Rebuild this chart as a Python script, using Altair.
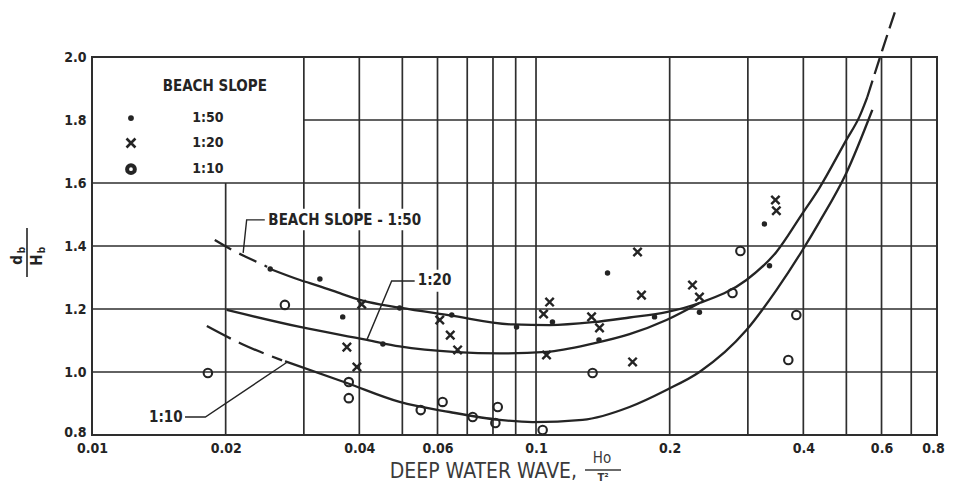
import altair as alt
import pandas as pd

FONT = "DejaVu Sans Condensed, DejaVu Sans, sans-serif"
INK = "#242424"
GRID = "#2e2e2e"

# ---------------- axes ----------------
x_ticks = [0.01, 0.02, 0.04, 0.06, 0.1, 0.2, 0.4, 0.6, 0.8]
y_ticks = [0.8, 1.0, 1.2, 1.4, 1.6, 1.8, 2.0]

# vertical grid lines (x value, top of line)
grid_v_x = [0.02, 0.03, 0.04, 0.05, 0.06, 0.07, 0.08, 0.09, 0.1, 0.2, 0.3, 0.4, 0.5, 0.6, 0.7]
grid_v_top = [1.6, 2.0, 2.0, 2.0, 2.0, 2.0, 2.0, 2.0, 2.0, 2.0, 2.0, 2.0, 2.0, 2.0, 2.0]
# horizontal grid lines (y value, left start)
grid_h_y = [1.0, 1.2, 1.4, 1.6, 1.8]
grid_h_start = [0.01, 0.01, 0.01, 0.01, 0.03]

# ---------------- curves ----------------
c50_dash_x = [0.0189, 0.0207, 0.0225, 0.0248]
c50_dash_y = [1.419, 1.387, 1.362, 1.334]
c50_x = [0.0252, 0.0294, 0.0326, 0.0365, 0.0403, 0.0493, 0.0639, 0.0886, 0.1073, 0.1341,
         0.1624, 0.1967, 0.2334, 0.2978, 0.3478, 0.3959, 0.4346, 0.5000, 0.5348, 0.5574]
c50_y = [1.327, 1.292, 1.272, 1.248, 1.228, 1.204, 1.180, 1.151, 1.149, 1.158,
         1.173, 1.190, 1.219, 1.292, 1.381, 1.498, 1.584, 1.737, 1.810, 1.873]
c50_top_x = [0.5574, 0.6025, 0.6477]
c50_top_y = [1.873, 2.022, 2.156]

c20_x = [0.0201, 0.0294, 0.0416, 0.0493, 0.0663, 0.0828, 0.1056, 0.1341, 0.1624, 0.1967, 0.2334]
c20_y = [1.197, 1.143, 1.102, 1.081, 1.063, 1.059, 1.064, 1.090, 1.120, 1.165, 1.219]

c10_dash_x = [0.01814, 0.02175, 0.02680]
c10_dash_y = [1.146, 1.089, 1.037]
c10_x = [0.0272, 0.0375, 0.0493, 0.0639, 0.0828, 0.0982, 0.1273, 0.1624, 0.1967, 0.2334,
         0.2978, 0.3478, 0.3959, 0.4346, 0.5000, 0.5720]
c10_y = [1.034, 0.965, 0.905, 0.873, 0.848, 0.841, 0.848, 0.889, 0.943, 1.000,
         1.133, 1.260, 1.381, 1.476, 1.632, 1.832]

# ---------------- observations ----------------
s50_x = [0.0252, 0.0326, 0.0367, 0.0452, 0.0493, 0.0646, 0.0904, 0.1089, 0.1386, 0.1449,
         0.1849, 0.2334, 0.3268, 0.3356]
s50_y = [1.327, 1.295, 1.175, 1.089, 1.203, 1.181, 1.143, 1.159, 1.102, 1.314,
         1.175, 1.190, 1.470, 1.337]

s20_x = [0.0375, 0.0395, 0.0405, 0.0607, 0.0641, 0.0666, 0.1073, 0.1040, 0.1056, 0.1334,
         0.1390, 0.1650, 0.1693, 0.1728, 0.2251, 0.2334, 0.3461, 0.3478]
s20_y = [1.079, 1.016, 1.215, 1.165, 1.117, 1.070, 1.222, 1.184, 1.054, 1.175,
         1.140, 1.032, 1.381, 1.244, 1.276, 1.238, 1.546, 1.512]

s10_x = [0.01824, 0.02719, 0.03787, 0.03787, 0.0550, 0.0616, 0.0720, 0.0820, 0.0810, 0.1035,
         0.1341, 0.2770, 0.2886, 0.3857, 0.3700]
s10_y = [0.997, 1.213, 0.968, 0.917, 0.879, 0.905, 0.857, 0.889, 0.838, 0.816,
         0.997, 1.251, 1.384, 1.181, 1.038]

# ---------------- annotations ----------------
lead_id = [0, 0, 0, 1, 1, 1, 2, 2, 2]
lead_x = [0.0245, 0.0223, 0.0219, 0.0533, 0.0473, 0.0416, 0.0162, 0.0180, 0.0275]
lead_y = [1.483, 1.483, 1.378, 1.289, 1.289, 1.102, 0.857, 0.857, 1.031]

lab_left_text = ["BEACH SLOPE - 1:50", "1:20"]
lab_left_x = [0.0247, 0.0536]
lab_left_y = [1.483, 1.291]
lab_right_text = ["1:10"]
lab_right_x = [0.0160]
lab_right_y = [0.857]

# white boxes behind labels (x, x2, y, y2)
box_x = [0.0245, 0.0531]
box_x2 = [0.0580, 0.0640]
box_y = [1.450, 1.255]
box_y2 = [1.518, 1.325]

legend_title = "BEACH SLOPE"
legend_title_x = [0.0189]
legend_title_y = [1.908]
legend_labels = ["1:50", "1:20", "1:10"]
legend_sym_x = 0.01224
legend_lab_x = 0.01824
legend_y = [1.806, 1.727, 1.644]

x_title = "DEEP WATER WAVE,"
x_frac_num = "Ho"
x_frac_den = "T²"
y_num = ["d", "b"]
y_den = ["H", "b"]

# ---------------- chart ----------------
xs = alt.Scale(type="log", domain=[0.01, 0.8], nice=False)
ys = alt.Scale(domain=[0.8, 2.0], nice=False, zero=False)
xaxis = alt.Axis(values=x_ticks, format="~g", title=None, grid=False, ticks=False, domain=False,
                 labelFont=FONT, labelFontSize=14, labelFontWeight="bold", labelColor=INK,
                 labelPadding=6, labelFlush=False, labelOverlap=False,
                 labelOffset={"condition": {"test": "datum.value > 0.7", "value": -4}, "value": 0})
yaxis = alt.Axis(values=y_ticks, format=".1f", title=None, grid=False, ticks=False, domain=False,
                 labelFont=FONT, labelFontSize=14, labelFontWeight="bold", labelColor=INK,
                 labelPadding=6, labelOverlap=False,
                 labelOffset={"condition": {"test": "datum.value < 0.9", "value": -3}, "value": 0})


def X(f):
    return alt.X(f"{f}:Q", scale=xs, axis=xaxis)


def Y(f):
    return alt.Y(f"{f}:Q", scale=ys, axis=yaxis)


vgrid = pd.DataFrame({"x": grid_v_x, "y": [0.8] * len(grid_v_x), "y2": grid_v_top})
hgrid = pd.DataFrame({"y": grid_h_y, "x": grid_h_start, "x2": [0.8] * len(grid_h_y)})

layers = []
layers.append(alt.Chart(vgrid).mark_rule(color=GRID, strokeWidth=1.7).encode(
    x=X("x"), y=Y("y"), y2="y2:Q"))
layers.append(alt.Chart(hgrid).mark_rule(color=GRID, strokeWidth=1.7).encode(
    x=X("x"), x2="x2:Q", y=Y("y")))

boxes = pd.DataFrame({"x": box_x, "x2": box_x2, "y": box_y, "y2": box_y2})
layers.append(alt.Chart(boxes).mark_rect(color="white").encode(
    x=X("x"), x2="x2:Q", y=Y("y"), y2="y2:Q"))


def curve(xv, yv, dash=None):
    df = pd.DataFrame({"x": xv, "y": yv, "i": list(range(len(xv)))})
    kw = dict(color=INK, strokeWidth=2.3, interpolate="monotone")
    if dash:
        kw["strokeDash"] = dash
    return alt.Chart(df).mark_line(**kw).encode(x=X("x"), y=Y("y"), order="i:Q")


layers.append(curve(c50_dash_x, c50_dash_y, [19, 9]))
layers.append(curve(c50_x, c50_y))
layers.append(curve(c50_top_x, c50_top_y, [17, 7]))
layers.append(curve(c20_x, c20_y))
layers.append(curve(c10_dash_x, c10_dash_y, [27, 9]))
layers.append(curve(c10_x, c10_y))

leads = pd.DataFrame({"x": lead_x, "y": lead_y, "g": lead_id, "i": list(range(len(lead_x)))})
layers.append(alt.Chart(leads).mark_line(color=INK, strokeWidth=1.4).encode(
    x=X("x"), y=Y("y"), detail="g:N", order="i:Q"))

XSHAPE = "M-1,-1L1,1M-1,1L1,-1"
layers.append(alt.Chart(pd.DataFrame({"x": s50_x, "y": s50_y})).mark_circle(
    color=INK, size=30, opacity=1).encode(x=X("x"), y=Y("y")))
layers.append(alt.Chart(pd.DataFrame({"x": s20_x, "y": s20_y})).mark_point(
    shape=XSHAPE, filled=False, color=INK, size=70, strokeWidth=2.4, opacity=1).encode(x=X("x"), y=Y("y")))
layers.append(alt.Chart(pd.DataFrame({"x": s10_x, "y": s10_y})).mark_point(
    shape="circle", filled=False, color=INK, size=72, strokeWidth=2.1, opacity=1).encode(x=X("x"), y=Y("y")))

# curve labels
layers.append(alt.Chart(pd.DataFrame({"x": lab_left_x, "y": lab_left_y, "t": lab_left_text})).mark_text(
    align="left", baseline="middle", font=FONT, fontSize=15, fontWeight="bold", color=INK, dx=2).encode(
    x=X("x"), y=Y("y"), text="t:N"))
layers.append(alt.Chart(pd.DataFrame({"x": lab_right_x, "y": lab_right_y, "t": lab_right_text})).mark_text(
    align="right", baseline="middle", font=FONT, fontSize=15, fontWeight="bold", color=INK).encode(
    x=X("x"), y=Y("y"), text="t:N"))

# legend box content
layers.append(alt.Chart(pd.DataFrame({"x": legend_title_x, "y": legend_title_y, "t": [legend_title]})).mark_text(
    align="center", baseline="middle", font=FONT, fontSize=15, fontWeight="bold", color=INK).encode(
    x=X("x"), y=Y("y"), text="t:N"))
layers.append(alt.Chart(pd.DataFrame({"x": [legend_lab_x] * 3, "y": legend_y, "t": legend_labels})).mark_text(
    align="center", baseline="middle", font=FONT, fontSize=14, fontWeight="bold", color=INK).encode(
    x=X("x"), y=Y("y"), text="t:N"))
layers.append(alt.Chart(pd.DataFrame({"x": [legend_sym_x], "y": [legend_y[0]]})).mark_circle(
    color=INK, size=34, opacity=1).encode(x=X("x"), y=Y("y")))
layers.append(alt.Chart(pd.DataFrame({"x": [legend_sym_x], "y": [legend_y[1]]})).mark_point(
    shape=XSHAPE, filled=False, color=INK, size=80, strokeWidth=2.6, opacity=1).encode(x=X("x"), y=Y("y")))
layers.append(alt.Chart(pd.DataFrame({"x": [legend_sym_x], "y": [legend_y[2]]})).mark_point(
    shape="circle", filled=False, color=INK, size=60, strokeWidth=4, opacity=1).encode(x=X("x"), y=Y("y")))

# axis titles (pixel positions relative to plot area)
one = pd.DataFrame({"a": [0]})
layers.append(alt.Chart(one).mark_text(align="right", baseline="middle", font=FONT, fontSize=21,
                                       color="#3a3a3a").encode(
    x=alt.value(485), y=alt.value(415), text=alt.value(x_title)))
layers.append(alt.Chart(one).mark_text(align="center", baseline="middle", font=FONT, fontSize=15,
                                       color="#3a3a3a").encode(
    x=alt.value(510), y=alt.value(401), text=alt.value(x_frac_num)))
layers.append(alt.Chart(one).mark_rule(color="#3a3a3a", strokeWidth=1.6).encode(
    x=alt.value(493), x2=alt.value(529), y=alt.value(413)))
layers.append(alt.Chart(one).mark_text(align="center", baseline="middle", font=FONT, fontSize=11,
                                       fontWeight="bold", color="#3a3a3a").encode(
    x=alt.value(511), y=alt.value(421), text=alt.value(x_frac_den)))

# y title: fraction d_b / H_b, rotated
layers.append(alt.Chart(one).mark_text(align="center", baseline="middle", font=FONT, fontSize=15,
                                       fontWeight="bold", angle=270, color=INK).encode(
    x=alt.value(-75), y=alt.value(203), text=alt.value(y_num[0])))
layers.append(alt.Chart(one).mark_text(align="center", baseline="middle", font=FONT, fontSize=10,
                                       fontWeight="bold", angle=270, color=INK).encode(
    x=alt.value(-70), y=alt.value(193), text=alt.value(y_num[1])))
layers.append(alt.Chart(one).mark_rule(color=INK, strokeWidth=1.6).encode(
    x=alt.value(-65), y=alt.value(171), y2=alt.value(220)))
layers.append(alt.Chart(one).mark_text(align="center", baseline="middle", font=FONT, fontSize=15,
                                       fontWeight="bold", angle=270, color=INK).encode(
    x=alt.value(-55), y=alt.value(203), text=alt.value(y_den[0])))
layers.append(alt.Chart(one).mark_text(align="center", baseline="middle", font=FONT, fontSize=10,
                                       fontWeight="bold", angle=270, color=INK).encode(
    x=alt.value(-50), y=alt.value(193), text=alt.value(y_den[1])))

chart = alt.layer(*layers).properties(
    width=845, height=378,
    autosize=alt.AutoSizeParams(type="none"),
    padding={"left": 84, "top": 49, "right": 8, "bottom": 51},
    background="white",
).configure_view(stroke=GRID, strokeWidth=2)

chart.save("out.html", embed_options={"renderer": "svg", "actions": False})
